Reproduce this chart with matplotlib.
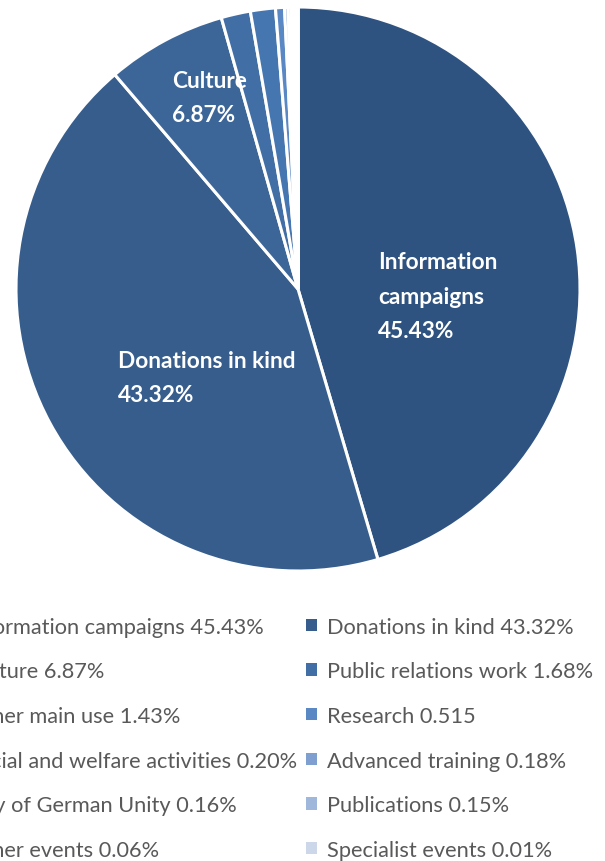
import matplotlib.pyplot as plt
from matplotlib.patches import Patch

# Shares of expenditure by main use (%)
categories = ["Information campaigns", "Donations in kind", "Culture",
              "Public relations work", "Other main use", "Research",
              "Social and welfare activities", "Advanced training",
              "Day of German Unity", "Publications", "Other events",
              "Specialist events"]
shares = [45.43, 43.32, 6.87, 1.68, 1.43, 0.515, 0.20, 0.18, 0.16, 0.15, 0.06, 0.01]
legend_labels = ["Information campaigns 45.43%", "Donations in kind 43.32%",
                 "Culture 6.87%", "Public relations work 1.68%",
                 "Other main use 1.43%", "Research 0.515",
                 "Social and welfare activities 0.20%", "Advanced training 0.18%",
                 "Day of German Unity 0.16%", "Publications 0.15%",
                 "Other events 0.06%", "Specialist events 0.01%"]
slice_labels = {0: "Information\ncampaigns\n45.43%",
                1: "Donations in kind\n43.32%",
                2: "Culture\n6.87%"}

colors = ["#2f5380", "#365d8c", "#3c6698", "#416ea4", "#4676b0", "#5a88c4",
          "#6b93c9", "#7f9fd0", "#8fabd5", "#a0b7dc", "#b6c6e3", "#cdd7ea"]

fig = plt.figure(figsize=(6.05, 8.62), dpi=100)
ax = fig.add_axes([16 / 605, 1 - 572 / 862, 564 / 605, 564 / 862])

wedges, _ = ax.pie(shares, colors=colors, startangle=90, counterclock=False,
                   wedgeprops=dict(edgecolor="white", linewidth=2.2))
ax.set_xlim(-1, 1)
ax.set_ylim(-1, 1)
ax.set_aspect("equal")
ax.axis("off")

# in-slice labels (left edge, vertical centre)
label_pos = {0: (0.284, -0.025), 1: (-0.638, -0.315), 2: (-0.447, 0.68)}
for i, txt in slice_labels.items():
    x, y = label_pos[i]
    ax.text(x, y, txt, ha="left", va="center", color="white",
            fontsize=16.3, fontweight="bold", family="Lato", linespacing=1.78)

# legend reads row by row, so feed it column-major
order = list(range(0, 12, 2)) + list(range(1, 12, 2))
handles = [Patch(facecolor=colors[i], edgecolor="none") for i in order]
labels = [legend_labels[i] for i in order]
fig.legend(handles, labels, ncol=2, loc="upper left",
           bbox_to_anchor=(-0.122, 1 - 598 / 862), frameon=False,
           prop={"family": "Lato", "size": 15.7}, labelcolor="#595959",
           handlelength=0.5, handleheight=0.5, handletextpad=0.45,
           columnspacing=0.45, labelspacing=1.13)

fig.savefig("out.png", dpi=100)
